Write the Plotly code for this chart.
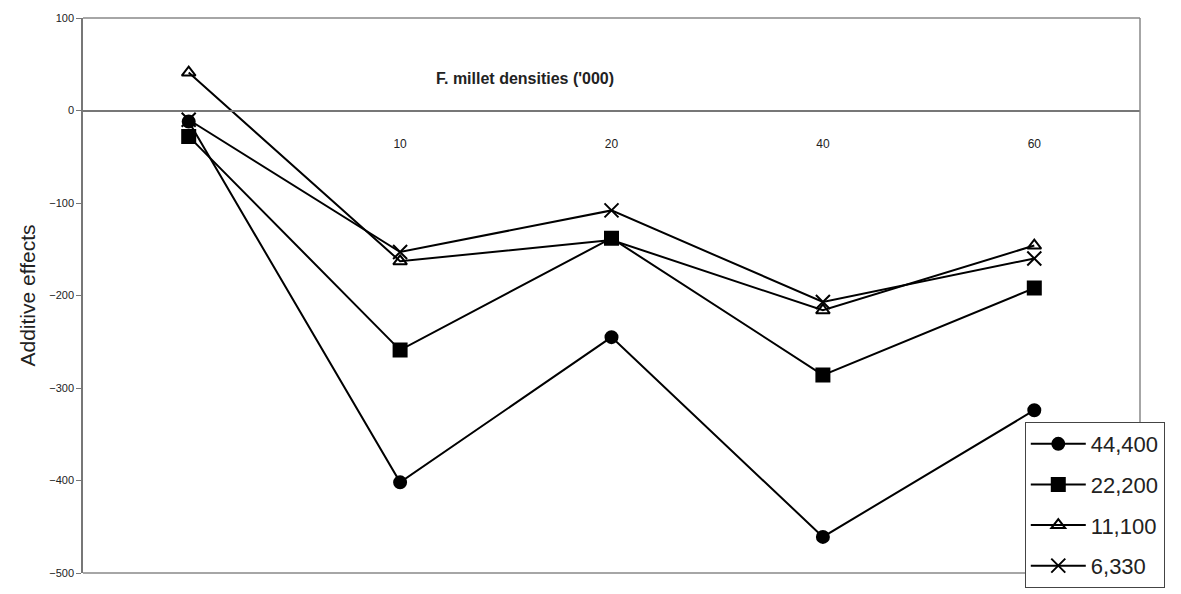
import plotly.graph_objects as go

categories = ["", "10", "20", "40", "60"]
series_names = ["44,400", "22,200", "11,100", "6,330"]
s44400 = [-12, -402, -245, -461, -324]
s22200 = [-28, -259, -138, -286, -192]
s11100 = [41, -163, -140, -216, -146]
s6330 = [-10, -153, -108, -207, -160]
y_ticks = [100, 0, -100, -200, -300, -400, -500]

xcat = ["c0", "c10", "c20", "c40", "c60"]
values = [s44400, s22200, s11100, s6330]
symbols = ["circle", "square", "triangle-up-open", "x-thin-open"]
sizes = [12, 13, 12, 14]

fig = go.Figure()
for name, vals, sym, sz in zip(series_names, values, symbols, sizes):
    fig.add_trace(go.Scatter(
        x=xcat, y=vals, name=name, mode="lines+markers",
        line=dict(color="black", width=2),
        marker=dict(symbol=sym, size=sz, color="black",
                    line=dict(color="black", width=2)),
        legendgroup=name,
    ))

fig.update_layout(
    width=1181, height=594,
    margin=dict(l=83, r=41, t=18, b=21, autoexpand=False),
    paper_bgcolor="white", plot_bgcolor="white",
    font=dict(family="Arial, Liberation Sans, sans-serif", color="black"),
    showlegend=True,
    legend=dict(
        x=0.891, y=0.272, xanchor="left", yanchor="top",
        bgcolor="white", bordercolor="#444", borderwidth=1,
        font=dict(size=22, color="#222"),
        traceorder="grouped", tracegroupgap=9,
        itemwidth=55,
    ),
    xaxis=dict(
        type="category", categoryorder="array", categoryarray=xcat,
        tickvals=xcat, ticktext=categories,
        anchor="free", position=(0 + 500) / 600,
        showline=True, linecolor="#777", linewidth=1.5,
        ticks="", showgrid=False, zeroline=False,
        tickfont=dict(size=12, color="#222"),
        ticklabelstandoff=22,
        range=[-0.5, 4.5],
    ),
    yaxis=dict(
        range=[-500, 100], tickvals=y_ticks,
        showline=True, linecolor="#777", linewidth=1.5,
        ticks="outside", ticklen=5, tickcolor="#777",
        showgrid=False, zeroline=False,
        tickfont=dict(size=11, color="#222"),
        title=dict(text="Additive effects", font=dict(size=21, color="#222"), standoff=8),
    ),
    annotations=[dict(
        text="<b>F. millet densities ('000)</b>", x=0.418, y=0.91,
        xref="paper", yref="paper", showarrow=False,
        font=dict(size=16, color="#222"),
    )],
    shapes=[
        dict(type="line", xref="paper", yref="paper", x0=0, x1=1, y0=1, y1=1,
             line=dict(color="#888", width=1.5)),
        dict(type="line", xref="paper", yref="paper", x0=1, x1=1, y0=0, y1=1,
             line=dict(color="#888", width=1.5)),
        dict(type="line", xref="paper", yref="paper", x0=0, x1=1, y0=0, y1=0,
             line=dict(color="#888", width=1.5)),
    ],
)

fig.write_html("out.html")
